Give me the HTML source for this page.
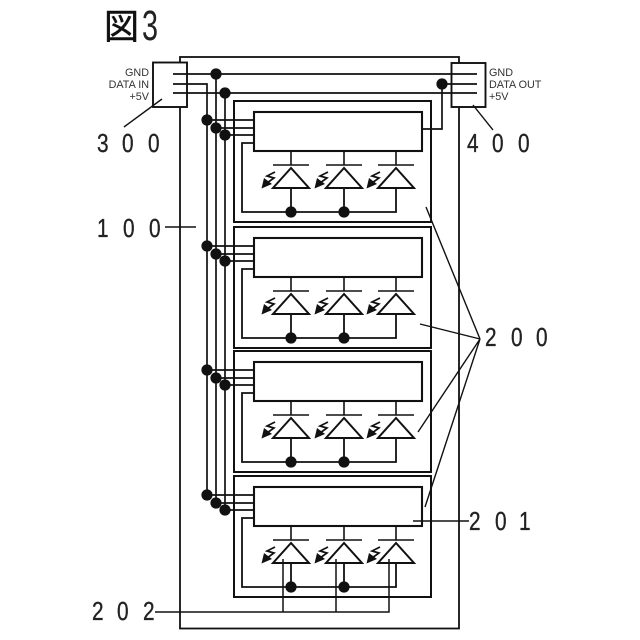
<!DOCTYPE html>
<html>
<head>
<meta charset="utf-8">
<style>
html,body{margin:0;padding:0;background:#fff;width:640px;height:640px;overflow:hidden}
svg{display:block}
.d{font-family:"Liberation Sans",sans-serif;font-size:26px;fill:#222;stroke:#222;stroke-width:.35}
.s{font-family:"Liberation Sans",sans-serif;font-size:10.8px;fill:#333}
</style>
</head>
<body>
<svg width="640" height="640" viewBox="0 0 640 640" xmlns="http://www.w3.org/2000/svg">
<defs>
<g id="led">
  <path d="M0 0V14M-18 14H18" fill="none" stroke="#111" stroke-width="1.6"/>
  <path d="M0 17L-18 37H18Z" fill="#fff" stroke="#111" stroke-width="2" stroke-linejoin="miter"/>
  <path d="M-16 21L-24 25L-17 27L-24 32" fill="none" stroke="#111" stroke-width="1.7"/>
  <path d="M-29.500 37.500L-27 27L-19 33Z" fill="#111"/>
</g>
<g id="mod">
  <rect x="234" y="-11" width="197" height="121" fill="none" stroke="#111" stroke-width="2"/>
  <rect x="254" y="0" width="168" height="39" fill="#fff" stroke="#111" stroke-width="2.100"/>
  <path d="M207 8H254M216 16H254M225 23H254M254 31H242V100H396V76M291 76V100M344 76V100" fill="none" stroke="#111" stroke-width="1.800"/>
  <use href="#led" x="291" y="39"/>
  <use href="#led" x="344" y="39"/>
  <use href="#led" x="396" y="39"/>
  <circle cx="207" cy="8" r="5.600" fill="#111"/>
  <circle cx="216" cy="16" r="5.600" fill="#111"/>
  <circle cx="225" cy="23" r="5.600" fill="#111"/>
  <circle cx="291" cy="100" r="5.600" fill="#111"/>
  <circle cx="344" cy="100" r="5.600" fill="#111"/>
</g>
</defs>

<rect x="180" y="57" width="279" height="571.500" fill="none" stroke="#111" stroke-width="1.800"/>

<rect x="153" y="62.500" width="34" height="44.500" fill="#fff" stroke="#111" stroke-width="1.900"/>
<rect x="451.500" y="63" width="34" height="44" fill="#fff" stroke="#111" stroke-width="1.900"/>

<path d="M173 74H477M173 84H207V495M173 93H477M216 74V503M225 93V511M442 84H477M442 84V129H422" fill="none" stroke="#111" stroke-width="1.700"/>

<use href="#mod" y="112"/>
<use href="#mod" y="238"/>
<use href="#mod" y="362"/>
<use href="#mod" y="487"/>

<circle cx="216" cy="74" r="5.600" fill="#111"/>
<circle cx="225" cy="93" r="5.600" fill="#111"/>
<circle cx="442" cy="84" r="5.600" fill="#111"/>

<path d="M155 612H389V559M283 612V559M336 612V559" fill="none" stroke="#111" stroke-width="1.500"/>

<path d="M162 99L124 127M473 105L493 130M165 227H196M413 521H469M480 339L426 207M480 339L420 324M480 339L418 432M480 339L425 507" fill="none" stroke="#111" stroke-width="1.400"/>

<text x="104" y="39" style="font-family:'Liberation Sans','Noto Sans CJK JP',sans-serif;font-size:35px;fill:#111;stroke:#111;stroke-width:.5">図</text>
<text transform="translate(142,40) scale(.9,1.32)" style="font-family:'Liberation Sans',sans-serif;font-size:32px;fill:#222">3</text>

<text class="s" x="149" y="76" text-anchor="end">GND</text>
<text class="s" x="149" y="88" text-anchor="end">DATA IN</text>
<text class="s" x="149" y="100" text-anchor="end">+5V</text>
<text class="s" x="489" y="76">GND</text>
<text class="s" x="489" y="88">DATA OUT</text>
<text class="s" x="489" y="100">+5V</text>

<text class="d" transform="translate(97,152) scale(.8,1)">3</text>
<text class="d" transform="translate(122,152) scale(.8,1)">0</text>
<text class="d" transform="translate(148,152) scale(.8,1)">0</text>

<text class="d" transform="translate(467,152) scale(.8,1)">4</text>
<text class="d" transform="translate(492,152) scale(.8,1)">0</text>
<text class="d" transform="translate(518,152) scale(.8,1)">0</text>

<text class="d" transform="translate(97,237) scale(.8,1)">1</text>
<text class="d" transform="translate(123,237) scale(.8,1)">0</text>
<text class="d" transform="translate(149,237) scale(.8,1)">0</text>

<text class="d" transform="translate(485,346) scale(.8,1)">2</text>
<text class="d" transform="translate(511,346) scale(.8,1)">0</text>
<text class="d" transform="translate(536,346) scale(.8,1)">0</text>

<text class="d" transform="translate(469,530) scale(.8,1)">2</text>
<text class="d" transform="translate(495,530) scale(.8,1)">0</text>
<text class="d" transform="translate(519,530) scale(.8,1)">1</text>

<text class="d" transform="translate(92,620) scale(.8,1)">2</text>
<text class="d" transform="translate(117,620) scale(.8,1)">0</text>
<text class="d" transform="translate(143,620) scale(.8,1)">2</text>
</svg>
</body>
</html>
